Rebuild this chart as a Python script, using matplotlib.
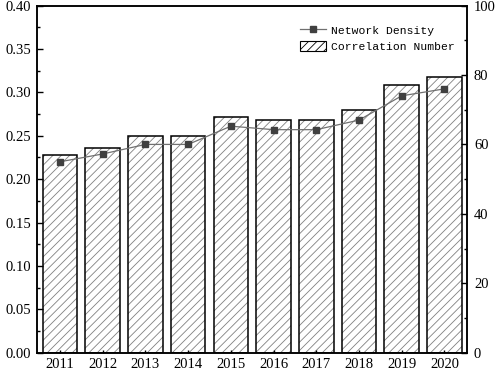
import matplotlib
matplotlib.use("Agg")
import matplotlib.pyplot as plt
from matplotlib.ticker import MultipleLocator, FormatStrFormatter
from matplotlib.lines import Line2D
from matplotlib.patches import Patch
import numpy as np

years = ["2011", "2012", "2013", "2014", "2015", "2016", "2017", "2018", "2019", "2020"]
network_density = [0.220, 0.229, 0.240, 0.240, 0.261, 0.257, 0.257, 0.268, 0.296, 0.304]
correlation_number = [57, 59, 62.5, 62.5, 68, 67, 67, 70, 77, 79.5]

plt.rcParams["font.family"] = ["Liberation Serif", "DejaVu Serif"]
plt.rcParams["hatch.linewidth"] = 0.6

fig = plt.figure(figsize=(4.98, 3.72), dpi=100)
ax1 = fig.add_axes([0.0743, 0.052, 0.8635, 0.933])
ax2 = ax1.twinx()

x = np.arange(len(years))
width = 0.81

# bars on the right axis: hatch in gray, outline in black
ax2.bar(x, correlation_number, width, color="white", edgecolor="#808080",
        hatch="////", linewidth=0, zorder=1)
ax2.bar(x, correlation_number, width, fill=False, edgecolor="black",
        linewidth=1.1, zorder=2)

# density line on the left axis, drawn on top
ax1.set_zorder(ax2.get_zorder() + 1)
ax1.patch.set_visible(False)
ax1.plot(x, network_density, color="#707070", linewidth=0.9,
         marker="s", markersize=5, markerfacecolor="#404040",
         markeredgecolor="#404040", zorder=3)

ax1.set_xlim(-0.54, 9.53)
ax1.set_ylim(0, 0.40)
ax2.set_ylim(0, 100)
ax1.set_xticks(x)
ax1.set_xticklabels(years)

ax1.yaxis.set_major_locator(MultipleLocator(0.05))
ax1.yaxis.set_minor_locator(MultipleLocator(0.025))
ax1.yaxis.set_major_formatter(FormatStrFormatter("%.2f"))
ax2.yaxis.set_major_locator(MultipleLocator(20))
ax2.yaxis.set_minor_locator(MultipleLocator(10))

ax1.tick_params(axis="y", which="major", direction="in", length=4, width=1, labelsize=10.5, pad=4)
ax1.tick_params(axis="y", which="minor", direction="in", length=2.5, width=1)
ax1.tick_params(axis="x", direction="in", length=2.5, width=1, labelsize=10.5, pad=4)
ax2.tick_params(axis="y", which="major", direction="in", length=4, width=1, labelsize=10.5, pad=5)
ax2.tick_params(axis="y", which="minor", direction="in", length=2.5, width=1)

for ax in (ax1, ax2):
    for s in ax.spines.values():
        s.set_linewidth(1.1)

# legend
handles = [
    Line2D([0], [0], color="#707070", linewidth=0.9, marker="s", markersize=5,
           markerfacecolor="#404040", markeredgecolor="#404040"),
    Patch(facecolor="white", edgecolor="black", hatch="////", linewidth=0.8),
]
ax1.legend(handles, ["Network Density", "Correlation Number"],
           loc="upper right", bbox_to_anchor=(0.995, 0.975), frameon=False,
           prop={"family": "Liberation Mono", "size": 8.2},
           handlelength=2.3, handleheight=1.0, handletextpad=0.4, labelspacing=0.45)

fig.savefig("out.png", dpi=100)
